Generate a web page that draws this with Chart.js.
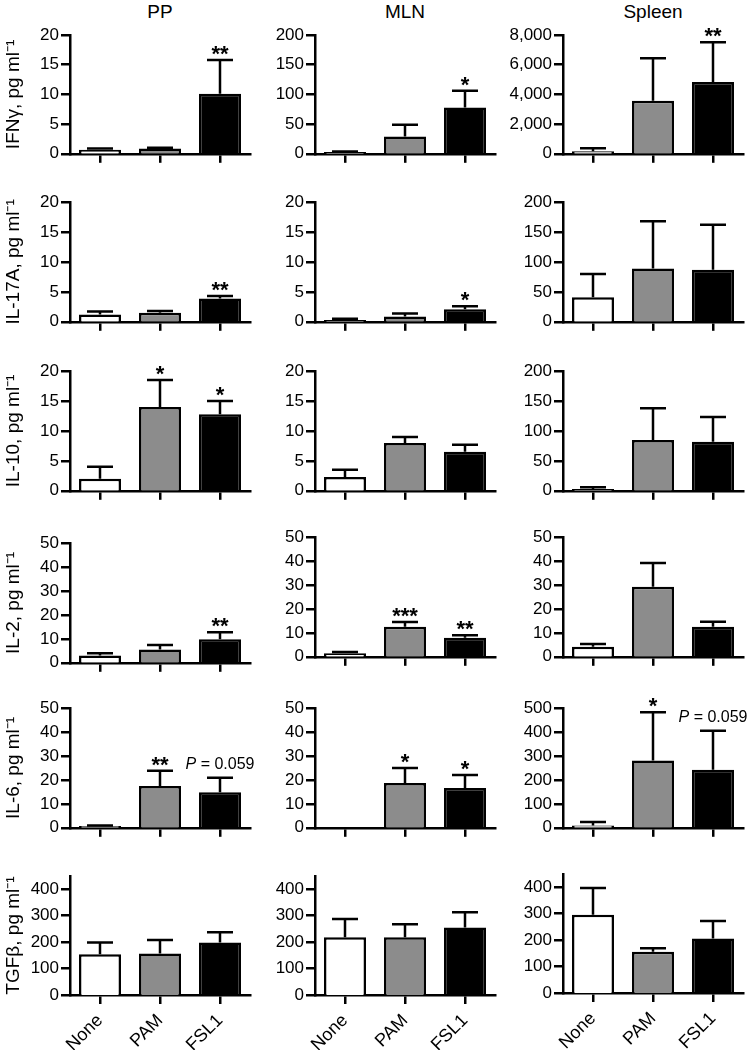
<!DOCTYPE html>
<html>
<head>
<meta charset="utf-8">
<script src="https://cdn.jsdelivr.net/npm/chart.js@4"></script>
<style>
  body { margin: 0; background: #fff; width: 747px; height: 1050px; position: relative; overflow: hidden;
         font-family: "Liberation Sans", Arial, sans-serif; }
  canvas { position: absolute; }
  .coltitle { position: absolute; top: 1px; font-size: 19px; transform: translateX(-50%); color: #000; }
</style>
</head>
<body>
<script>
// groups on the x axis, tissues as columns, cytokines as rows
const groups = ['None', 'PAM', 'FSL1'];
const tissues = ['PP', 'MLN', 'Spleen'];
const cytokines = ['IFNγ', 'IL-17A', 'IL-10', 'IL-2', 'IL-6', 'TGFβ'];

// y axis max and tick step, [PP, MLN, Spleen] for each cytokine
const yMax  = [[20, 200, 8000], [20, 20, 200], [20, 20, 200], [50, 50, 50], [50, 50, 500], [450, 450, 450]];
const yStep = [[5, 50, 2000],   [5, 5, 50],    [5, 5, 50],    [10, 10, 10], [10, 10, 100], [100, 100, 100]];

// bar heights (mean) and top of error bar (mean + SEM), per tissue: [None, PAM, FSL1]
const ifngMean = [[0.7, 0.9, 10.1], [3, 29, 78], [180, 3580, 4830]];
const ifngTop  = [[0.9, 1.0, 15.8], [4, 49, 106], [380, 6440, 7510]];
const il17Mean = [[1.2, 1.5, 3.9], [0.3, 0.9, 2.1], [41, 89, 87]];
const il17Top  = [[1.7, 1.8, 4.3], [0.5, 1.4, 2.6], [80, 168, 162]];
const il10Mean = [[2, 14, 12.8], [2.3, 8, 6.5], [3, 85, 82]];
const il10Top  = [[4, 18.5, 15], [3.5, 9, 7.7], [6, 138, 123]];
const il2Mean  = [[3, 5.5, 9.8], [1.5, 12.5, 8], [4.2, 29.2, 12.5]];
const il2Top   = [[4, 7.4, 12.8], [2, 14.5, 9], [5.3, 39.2, 14.6]];
const il6Mean  = [[0.8, 17.4, 14.8], [0, 18.7, 16.6], [10, 281, 242]];
const il6Top   = [[1.0, 23.8, 20.9], [0, 25, 22], [24, 482, 405]];
const tgfMean  = [[154, 157, 199], [218, 218, 255], [296, 156, 206]];
const tgfTop   = [[199, 208, 237], [287, 268, 313], [397, 169, 272]];

// significance marks above the bars
const ifngSig = [['', '', '**'], ['', '', '*'], ['', '', '**']];
const il17Sig = [['', '', '**'], ['', '', '*'], ['', '', '']];
const il10Sig = [['', '*', '*'], ['', '', ''], ['', '', '']];
const il2Sig  = [['', '', '**'], ['', '***', '**'], ['', '', '']];
const il6Sig  = [['', '**', 'P = 0.059'], ['', '*', '*'], ['', '*', 'P = 0.059']];
const tgfSig  = [['', '', ''], ['', '', ''], ['', '', '']];

const means = [ifngMean, il17Mean, il10Mean, il2Mean, il6Mean, tgfMean];
const tops  = [ifngTop, il17Top, il10Top, il2Top, il6Top, tgfTop];
const sigs  = [ifngSig, il17Sig, il10Sig, il2Sig, il6Sig, tgfSig];

// layout (pixels)
const axisX = [70, 315, 563];
const plotTop = [35, 202, 371, 543, 708, 876];
const plotBottom = [154, 322, 491, 663, 828, 995];
const shift = [[0, 0, 0], [0, 0, 0], [0, 0, 0], [0, -6, -6], [0, 0, 0], [0, 0, -2]];
const padTop = 34, padRight = 6;
const FONT = '"Liberation Sans", Arial, sans-serif';

// draws the upper error bars and the significance marks
const errorBars = {
  id: 'errorBars',
  afterDatasetsDraw(chart, args, opts) {
    const ctx = chart.ctx;
    const y = chart.scales.y;
    const bars = chart.getDatasetMeta(0).data;
    ctx.save();
    ctx.strokeStyle = '#000';
    ctx.lineWidth = 2.5;
    bars.forEach((bar, i) => {
      const capY = y.getPixelForValue(opts.top[i]);
      if (opts.top[i] > opts.mean[i]) {
        ctx.beginPath();
        ctx.moveTo(bar.x, bar.y);
        ctx.lineTo(bar.x, capY);
        ctx.moveTo(bar.x - 13, capY);
        ctx.lineTo(bar.x + 13, capY);
        ctx.stroke();
      }
      const s = opts.sig[i];
      if (!s) return;
      ctx.fillStyle = '#000';
      ctx.textBaseline = 'alphabetic';
      if (s.startsWith('P')) {
        const rest = s.slice(1);
        ctx.font = 'italic 16px ' + FONT;
        const wP = ctx.measureText('P').width;
        ctx.font = '16px ' + FONT;
        const wR = ctx.measureText(rest).width;
        const x0 = bar.x - (wP + wR) / 2;
        ctx.textAlign = 'left';
        ctx.font = 'italic 16px ' + FONT;
        ctx.fillText('P', x0, capY - 9);
        ctx.font = '16px ' + FONT;
        ctx.fillText(rest, x0 + wP, capY - 9);
      } else {
        ctx.font = 'bold 22px ' + FONT;
        ctx.textAlign = 'center';
        ctx.fillText(s, bar.x, capY + 1);
      }
    });
    ctx.restore();
  }
};

tissues.forEach((t, c) => {
  const d = document.createElement('div');
  d.className = 'coltitle';
  d.style.left = (axisX[c] + 90) + 'px';
  d.textContent = t;
  document.body.appendChild(d);
});

cytokines.forEach((name, r) => {
  tissues.forEach((tissue, c) => {
    const isBottom = r === cytokines.length - 1;
    const yWidth = c === 0 ? 70 : 60;
    const xHeight = isBottom ? 58 : 12;
    const top = plotTop[r] + shift[r][c];
    const plotH = plotBottom[r] - plotTop[r];
    const w = yWidth + 180 + padRight;
    const h = padTop + plotH + xHeight;

    const canvas = document.createElement('canvas');
    canvas.width = w;
    canvas.height = h;
    canvas.style.left = (axisX[c] - yWidth) + 'px';
    canvas.style.top = (top - padTop) + 'px';
    canvas.style.width = w + 'px';
    canvas.style.height = h + 'px';
    document.body.appendChild(canvas);

    const step = yStep[r][c];
    const max = yMax[r][c];
    new Chart(canvas, {
      type: 'bar',
      data: {
        labels: groups,
        datasets: [{
          data: means[r][c],
          base: 1e-9,
          backgroundColor: ['#ffffff', '#8c8c8c', '#000000'],
          borderColor: '#000',
          borderWidth: 2.5,
          borderSkipped: 'start',
          barPercentage: 0.7,
          categoryPercentage: 1
        }]
      },
      options: {
        responsive: false,
        animation: false,
        events: [],
        layout: { padding: { top: padTop, right: padRight, left: 0, bottom: 0 } },
        plugins: {
          legend: { display: false },
          tooltip: { enabled: false },
          errorBars: { mean: means[r][c], top: tops[r][c], sig: sigs[r][c] }
        },
        scales: {
          x: {
            grid: { drawOnChartArea: false, offset: false, tickLength: 9, lineWidth: 2.5, color: '#000' },
            border: { color: '#000', width: 2.5 },
            ticks: { display: isBottom, minRotation: 45, maxRotation: 45, padding: 6,
                     color: '#000', font: { family: FONT, size: 18 } },
            afterFit: s => { s.height = xHeight; }
          },
          y: {
            min: 0,
            max: max,
            grid: { drawOnChartArea: false, tickLength: 9, lineWidth: 2.5, color: '#000' },
            border: { color: '#000', width: 2.5 },
            ticks: { stepSize: step, padding: 2, color: '#000', font: { family: FONT, size: 17 } },
            title: {
              display: c === 0,
              text: name + ', pg ml⁻¹',
              color: '#000',
              padding: { top: 2, bottom: 0 },
              font: { family: FONT, size: 19 }
            },
            afterBuildTicks: s => {
              const list = [];
              for (let v = 0; v <= max; v += step) list.push({ value: v });
              s.ticks = list;
            },
            afterFit: s => { s.width = yWidth; }
          }
        }
      },
      plugins: [errorBars]
    });
  });
});
</script>
</body>
</html>
